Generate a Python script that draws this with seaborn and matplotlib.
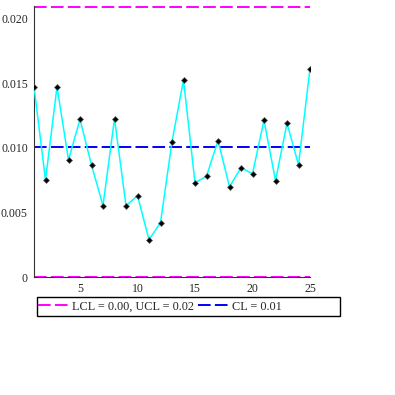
import matplotlib
matplotlib.use("Agg")
import matplotlib.pyplot as plt
import seaborn as sns
import pandas as pd
import numpy as np
from matplotlib.lines import Line2D
from matplotlib.patches import Rectangle
from matplotlib.ticker import MultipleLocator, FixedLocator

sns.set_style("white")
plt.rcParams['font.family'] = ['Liberation Serif', 'DejaVu Serif']

samples = list(range(1, 26))
values = [0.01475, 0.00752, 0.01475, 0.00907, 0.01222, 0.00868, 0.00553, 0.01227,
          0.00553, 0.00630, 0.00289, 0.00421, 0.01049, 0.01527, 0.00731, 0.00780,
          0.01057, 0.00700, 0.00847, 0.00800, 0.01215, 0.00747, 0.01191, 0.00870,
          0.01615]
lcl = 0.0
ucl = 0.02093
cl = 0.01008
legend_labels = ["LCL = 0.00, UCL = 0.02", "CL = 0.01"]
ytick_vals = [0, 0.005, 0.010, 0.015, 0.020]
ytick_labels = ["0", "0.005", "0.010", "0.015", "0.020"]
xtick_vals = [5, 10, 15, 20, 25]

df = pd.DataFrame({"sample": samples, "value": values})

fig = plt.figure(figsize=(3.95, 3.95), dpi=100)
ax = fig.add_axes([34/395, 1-277/395, 276/395, 271/395])

dash = (6.5, 2.2)
ax.axhline(ucl, color="#FF00FF", lw=1.4, dashes=dash, zorder=2)
ax.axhline(lcl, color="#FF00FF", lw=1.4, dashes=dash, zorder=2)
ax.axhline(cl, color="#0000FF", lw=1.4, dashes=dash, zorder=2)

sns.lineplot(data=df, x="sample", y="value", ax=ax, color="#00FFFF", lw=1.1,
             marker="D", markersize=3, markerfacecolor="black",
             markeredgecolor="#555555", markeredgewidth=0.5, zorder=3)

ax.set_xlim(1, 25)
ax.set_ylim(0, 0.0210)
ax.set_xlabel("")
ax.set_ylabel("")
ax.yaxis.set_major_locator(FixedLocator(ytick_vals))
ax.set_yticklabels(ytick_labels)
ax.yaxis.set_minor_locator(MultipleLocator(0.001))
ax.xaxis.set_major_locator(FixedLocator(xtick_vals))
ax.set_xticklabels([str(v) for v in xtick_vals])
ax.tick_params(axis="both", which="both", direction="out", length=2.5,
               width=0.6, color="#888888", labelsize=8.5, pad=2)
for s in ["top", "right"]:
    ax.spines[s].set_visible(False)
for s in ["left", "bottom"]:
    ax.spines[s].set_color("#333333")
    ax.spines[s].set_linewidth(0.8)

# legend box (fixed width as in the reference)
fig.patches.append(Rectangle((37/395, 1-316/395), 303/395, 19/395,
                             transform=fig.transFigure, fill=False,
                             edgecolor="black", linewidth=1.0))
handles = [Line2D([], [], color="#FF00FF", lw=1.4, dashes=dash),
           Line2D([], [], color="#0000FF", lw=1.4, dashes=dash)]
leg = fig.legend(handles, legend_labels, loc="center left",
                 bbox_to_anchor=(38/395, 1-306.5/395), ncol=2, fontsize=8.8,
                 frameon=False, handlelength=2.6, handletextpad=0.2,
                 columnspacing=0.3, borderaxespad=0, borderpad=0)

fig.savefig("out.png", dpi=100)
